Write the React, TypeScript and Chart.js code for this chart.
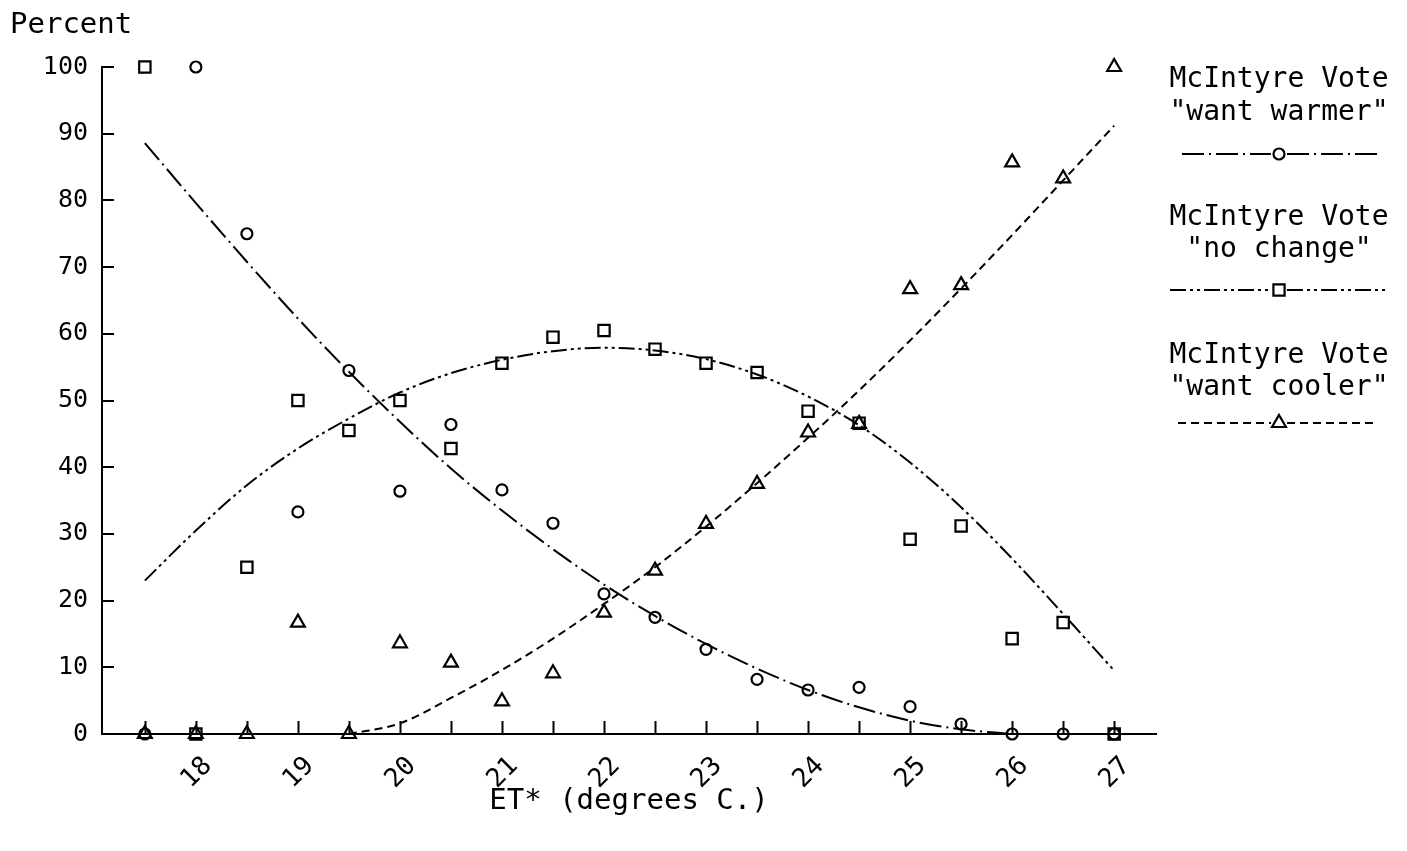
import React, { useEffect, useRef } from "react";
import { Chart, registerables } from "chart.js";

Chart.register(...registerables);

// ---------- data ----------
const temps = [17.5, 18, 18.5, 19, 19.5, 20, 20.5, 21, 21.5, 22, 22.5, 23, 23.5, 24, 24.5, 25, 25.5, 26, 26.5, 27];
const wantWarmer = [0, 100, 75, 33.3, 54.5, 36.4, 46.4, 36.6, 31.6, 21, 17.5, 12.7, 8.2, 6.6, 7.0, 4.1, 1.5, 0, 0, 0];
const noChange = [100, 0, 25, 50, 45.5, 50, 42.8, 55.6, 59.5, 60.5, 57.7, 55.6, 54.2, 48.4, 46.6, 29.2, 31.2, 14.3, 16.7, 0];
const wantCooler = [0, 0, 0, 16.7, 0, 13.6, 10.7, 4.9, 9.1, 18.2, 24.5, 31.5, 37.5, 45.2, 46.5, 66.7, 67.3, 85.7, 83.3, 100];

// fitted curves
const warmerFit = [88.6, 79.6, 70.8, 62.3, 54.3, 46.8, 39.8, 33.5, 27.7, 22.4, 17.7, 13.5, 9.8, 6.6, 4.0, 2.0, 0.7, 0, null, null];
const noChangeFit = [23, 30.5, 37.3, 42.8, 47.3, 51.2, 54.1, 56.1, 57.4, 57.9, 57.5, 56.2, 53.9, 50.6, 46.3, 40.7, 34.0, 26.3, 18.0, 9.5];
const coolerFit = [null, null, null, null, 0, 1.6, 5.4, 9.6, 14.3, 19.5, 25.0, 31.1, 37.6, 44.4, 51.5, 59.0, 66.8, 74.8, 83.0, 91.2];

const xTickLabels = ["18", "19", "20", "21", "22", "23", "24", "25", "26", "27"];
const xMarkValues = temps;
const yTickValues = [0, 10, 20, 30, 40, 50, 60, 70, 80, 90, 100];

const legendTitles = ["McIntyre Vote", "McIntyre Vote", "McIntyre Vote"];
const legendSubtitles = ['"want warmer"', '"no change"', '"want cooler"'];

const X_MIN = 17.08;
const X_MAX = 27.41;

const MONO = '"DejaVu Sans Mono", "Liberation Mono", monospace';
const INK = "#000";

const dashWarmer = [22, 5, 2, 5];
const dashNoChange = [16, 4, 3, 4, 3, 4];
const dashCooler = [8, 5];

const pts = (vals: (number | null)[]) => temps.map((t, i) => ({ x: t, y: vals[i] }));

function drawMarker(ctx: CanvasRenderingContext2D, style: string, x: number, y: number) {
  ctx.save();
  ctx.setLineDash([]);
  ctx.strokeStyle = INK;
  ctx.lineWidth = 2.2;
  ctx.beginPath();
  if (style === "circle") {
    ctx.arc(x, y, 5.5, 0, Math.PI * 2);
  } else if (style === "rect") {
    ctx.rect(x - 5.6, y - 5.6, 11.2, 11.2);
  } else {
    const r = 8;
    ctx.moveTo(x, y - r);
    ctx.lineTo(x + r * Math.sin(Math.PI / 3), y + r * 0.5);
    ctx.lineTo(x - r * Math.sin(Math.PI / 3), y + r * 0.5);
    ctx.closePath();
  }
  ctx.stroke();
  ctx.restore();
}

const decor = {
  id: "decor",
  afterDraw(chart: any) {
    const ctx: CanvasRenderingContext2D = chart.ctx;
    const xs = chart.scales.x;
    const ys = chart.scales.y;
    const area = chart.chartArea;
    ctx.save();
    ctx.fillStyle = INK;
    ctx.strokeStyle = INK;

    // "Percent"
    ctx.font = `29px ${MONO}`;
    ctx.textAlign = "left";
    ctx.textBaseline = "alphabetic";
    ctx.fillText("Percent", 10, 33);

    // tick marks on x axis (pointing up)
    ctx.lineWidth = 2;
    ctx.beginPath();
    xMarkValues.forEach((v) => {
      const px = Math.round(xs.getPixelForValue(v)) + 0.5;
      ctx.moveTo(px, area.bottom - 13);
      ctx.lineTo(px, area.bottom + 1);
    });
    // tick marks on y axis (pointing right)
    yTickValues.forEach((v) => {
      const py = Math.round(ys.getPixelForValue(v));
      ctx.moveTo(area.left, py);
      ctx.lineTo(area.left + 12, py);
    });
    ctx.stroke();

    // rotated x tick labels
    ctx.font = `26px ${MONO}`;
    ctx.textAlign = "center";
    ctx.textBaseline = "middle";
    xTickLabels.forEach((lab) => {
      const px = xs.getPixelForValue(Number(lab));
      ctx.save();
      ctx.translate(px + 1, area.bottom + 39);
      ctx.rotate(-Math.PI / 4);
      ctx.fillText(lab, 0, 0);
      ctx.restore();
    });

    // legend
    const cx = 1279;
    const groups = [
      { t: 87, s: 120, l: 154, dash: dashWarmer, marker: "circle", x0: 1182, x1: 1377 },
      { t: 225, s: 257, l: 290, dash: dashNoChange, marker: "rect", x0: 1170, x1: 1388 },
      { t: 363, s: 395, l: 423, dash: dashCooler, marker: "triangle", x0: 1178, x1: 1376 },
    ];
    ctx.font = `28px ${MONO}`;
    ctx.textAlign = "center";
    ctx.textBaseline = "alphabetic";
    groups.forEach((g, i) => {
      ctx.fillText(legendTitles[i], cx, g.t);
      ctx.fillText(legendSubtitles[i], cx, g.s);
      ctx.save();
      ctx.lineWidth = 2;
      ctx.setLineDash(g.dash);
      ctx.beginPath();
      ctx.moveTo(g.x0, g.l);
      ctx.lineTo(cx - 8, g.l);
      ctx.stroke();
      ctx.beginPath();
      ctx.moveTo(cx + 8, g.l);
      ctx.lineTo(g.x1, g.l);
      ctx.stroke();
      ctx.restore();
      drawMarker(ctx, g.marker, cx, g.l);
    });
    ctx.restore();
  },
};

export default function App() {
  const ref = useRef<HTMLCanvasElement>(null);

  useEffect(() => {
    const canvas = ref.current;
    if (!canvas) return;

    const fitLine = (label: string, vals: (number | null)[], dash: number[]) => ({
      label,
      data: pts(vals),
      borderColor: INK,
      borderWidth: 2,
      borderDash: dash,
      pointRadius: 0,
      fill: false,
      cubicInterpolationMode: "monotone" as const,
      spanGaps: false,
      clip: false as any,
    });
    const scatter = (label: string, vals: number[], style: string, radius: number) => ({
      label,
      data: pts(vals),
      showLine: false,
      pointStyle: style,
      pointRadius: radius,
      pointBorderWidth: 2.2,
      pointBorderColor: INK,
      pointBackgroundColor: "rgba(0,0,0,0)",
      borderColor: INK,
      clip: false as any,
    });

    const chart = new Chart(canvas, {
      type: "line",
      data: {
        datasets: [
          fitLine('McIntyre Vote "want warmer" fit', warmerFit, dashWarmer),
          fitLine('McIntyre Vote "no change" fit', noChangeFit, dashNoChange),
          fitLine('McIntyre Vote "want cooler" fit', coolerFit, dashCooler),
          scatter('McIntyre Vote "want warmer"', wantWarmer, "circle", 5.5),
          scatter('McIntyre Vote "no change"', noChange, "rect", 8),
          scatter('McIntyre Vote "want cooler"', wantCooler, "triangle", 8),
        ] as any,
      },
      options: {
        animation: false,
        responsive: false,
        maintainAspectRatio: false,
        layout: { padding: { top: 67, right: 251, bottom: 0, left: 0 } },
        plugins: {
          legend: { display: false },
          tooltip: { enabled: false },
        },
        scales: {
          x: {
            type: "linear",
            min: X_MIN,
            max: X_MAX,
            grid: { display: false, drawTicks: false },
            border: { display: true, color: INK, width: 2 },
            ticks: { display: false },
            title: {
              display: true,
              text: "ET* (degrees C.)",
              color: INK,
              font: { family: MONO, size: 29 },
              padding: { top: 0, bottom: 32 },
            },
            afterBuildTicks: (s: any) => {
              s.ticks = xMarkValues.map((v) => ({ value: v }));
            },
            afterFit: (s: any) => {
              s.height = 117;
            },
          },
          y: {
            type: "linear",
            min: 0,
            max: 100,
            grid: { display: false, drawTicks: false },
            border: { display: true, color: INK, width: 2 },
            ticks: {
              stepSize: 10,
              padding: 14,
              color: INK,
              font: { family: MONO, size: 25 },
            },
            afterFit: (s: any) => {
              s.width = 102;
            },
          },
        },
      } as any,
      plugins: [decor],
    });

    return () => chart.destroy();
  }, []);

  return (
    <div style={{ position: "fixed", left: 0, top: 0, width: 1407, height: 851, background: "#fff" }}>
      <canvas ref={ref} width={1407} height={851} style={{ display: "block", width: 1407, height: 851 }} />
    </div>
  );
}
